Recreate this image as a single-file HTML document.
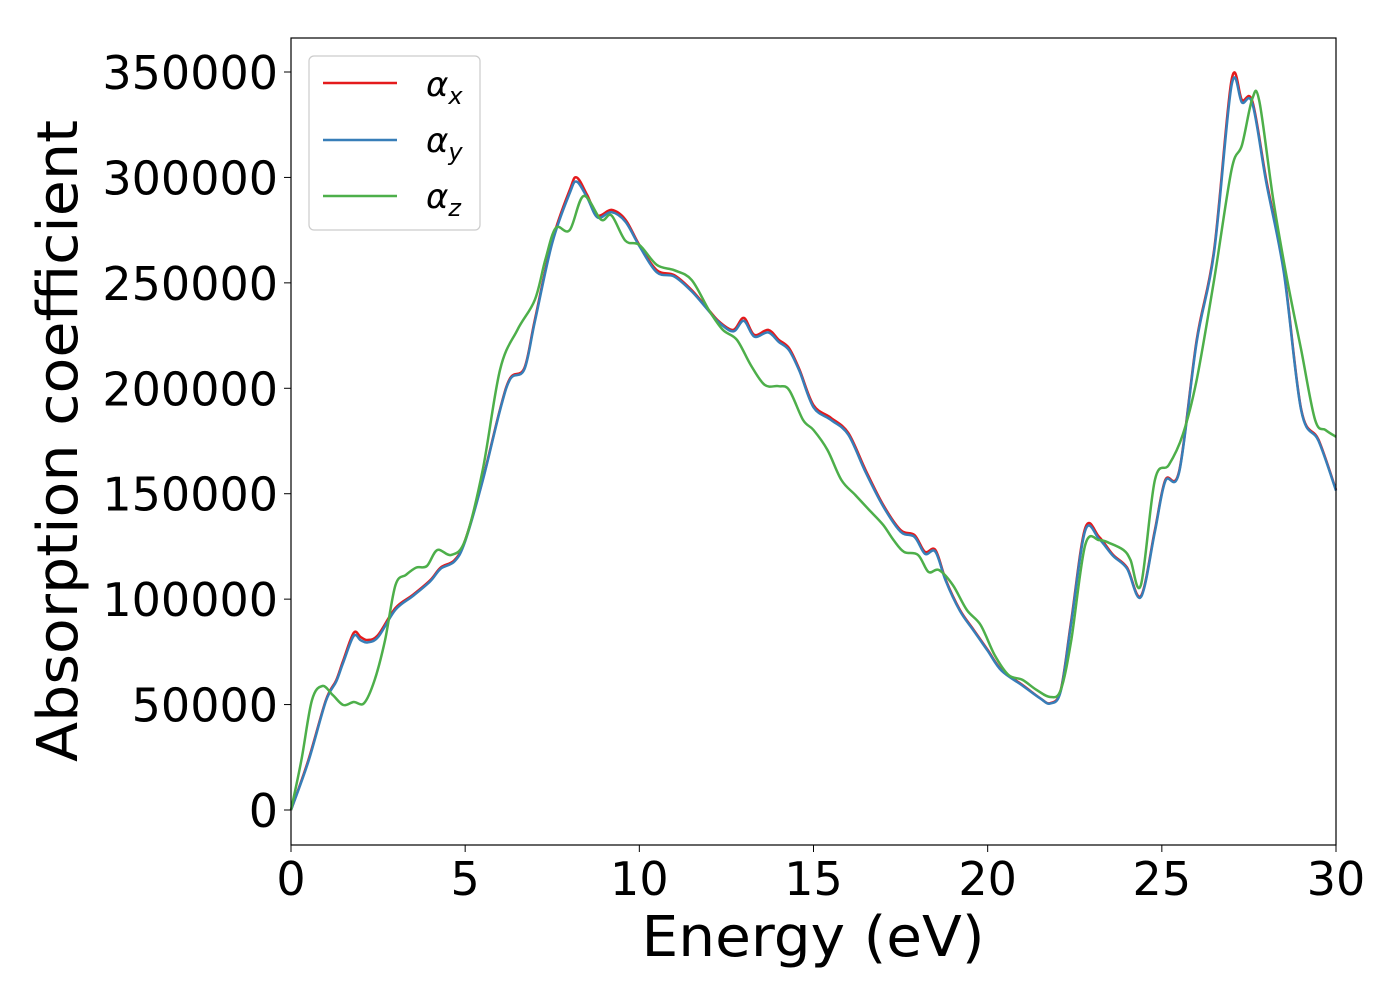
<!DOCTYPE html>
<html><head><meta charset="utf-8"><style>
html,body{margin:0;padding:0;background:#fff;}
svg text{font-family:"DejaVu Sans","Liberation Sans",sans-serif;}
</style></head><body>
<svg id="chart" width="1400" height="1000" viewBox="0 0 1400 1000" xmlns="http://www.w3.org/2000/svg">
<rect x="0" y="0" width="1400" height="1000" fill="#fff"/>
<g id="series"></g>
<rect x="291" y="38" width="1045" height="807" fill="none" stroke="#000" stroke-width="1.2"/>
<g id="axes"></g>
<text x="77" y="441" font-size="56" text-anchor="middle" textLength="642" lengthAdjust="spacingAndGlyphs" transform="rotate(-90 77 441)">Absorption coefficient</text>
<text x="813" y="956" font-size="56" text-anchor="middle" textLength="343" lengthAdjust="spacingAndGlyphs">Energy (eV)</text>
<g>
<rect x="309" y="56" width="171" height="174" rx="5" fill="#fff" fill-opacity="0.8" stroke="#ccc" stroke-width="1.2"/>
<line x1="323" y1="83" x2="397" y2="83" stroke="#e41a1c" stroke-width="2.5"/>
<text x="426" y="96" font-size="34" font-style="italic">α<tspan font-size="24" dy="8">x</tspan></text>
<line x1="323" y1="140" x2="397" y2="140" stroke="#377eb8" stroke-width="2.5"/>
<text x="426" y="152" font-size="34" font-style="italic">α<tspan font-size="24" dy="8">y</tspan></text>
<line x1="323" y1="196" x2="397" y2="196" stroke="#4daf4a" stroke-width="2.5"/>
<text x="426" y="208" font-size="34" font-style="italic">α<tspan font-size="24" dy="8">z</tspan></text>
</g>
</svg>
<script>
const xTicks = [0,5,10,15,20,25,30];
const yTicks = [0,50000,100000,150000,200000,250000,300000,350000];
const energyX = [0,0.5,1.0,1.3,1.5,1.8,2.0,2.2,2.5,3.0,3.5,4.0,4.3,4.7,5.0,5.5,6.0,6.3,6.7,7.0,7.5,8.0,8.2,8.5,8.8,9.2,9.6,10.0,10.5,11.0,11.5,12.0,12.3,12.7,13.0,13.3,13.7,14.0,14.3,14.6,15.0,15.5,16.0,16.5,17.0,17.5,17.9,18.2,18.5,18.8,19.2,19.6,20.0,20.4,21.0,21.5,21.8,22.1,22.4,22.8,23.2,23.6,24.0,24.4,24.8,25.1,25.5,26.0,26.5,27.0,27.3,27.6,28.0,28.5,29.0,29.5,30];
const alphaX = [0,23700,52000,61600,71000,84000,82000,80600,83000,95800,102000,109000,115000,118600,128000,156500,190000,205000,209600,232400,270000,294000,300000,291700,282000,284600,280000,268000,256000,253700,246600,237000,231500,227700,233400,225300,227700,223000,219000,208700,192000,186000,178800,161000,144700,132800,130400,122400,123300,109000,95000,85400,75900,66400,59300,53100,50700,57000,90000,133700,129500,121000,115000,101500,132800,156500,161000,223000,265600,346000,336700,336000,298800,256000,190000,175500,151800];
const alphaY = [0,23000,51500,61000,70000,82500,80500,79500,82000,95000,101500,108500,114500,118000,127500,156000,189500,204500,209000,231500,269000,292500,298000,290500,281000,283500,279000,267500,255000,253000,246000,236500,231000,227000,232000,224500,226500,222000,218000,208000,191000,185000,178000,160000,144000,132000,129500,121500,122500,108500,94500,85000,75500,66000,59000,53000,50500,56500,89000,132500,128500,120500,114500,101000,132000,156000,160500,222000,264500,343500,335500,335000,297500,255000,189500,175000,151500];
const energyZ = [0,0.3,0.6,0.9,1.2,1.5,1.8,2.1,2.4,2.7,3.0,3.3,3.6,3.9,4.2,4.6,5.0,5.5,6.0,6.5,7.0,7.3,7.6,8.0,8.4,8.9,9.2,9.6,10.0,10.5,11.0,11.5,12.0,12.4,12.8,13.2,13.6,14.0,14.3,14.7,15.0,15.4,15.8,16.2,16.6,17.0,17.3,17.6,18.0,18.3,18.6,19.0,19.4,19.8,20.2,20.6,21.0,21.4,21.8,22.1,22.4,22.8,23.2,23.5,23.9,24.1,24.4,24.8,25.2,25.6,26.0,26.5,27.0,27.3,27.6,27.8,28.2,28.6,29.0,29.4,29.7,30];
const alphaZ = [0,23700,52000,58800,54500,49800,51200,50700,61600,80600,106700,111500,115000,115700,123300,121000,128000,161000,208700,227700,241900,260900,276000,275000,291200,280000,282000,270000,268000,258500,256000,251400,237000,227700,223000,211000,201600,201000,199200,185000,180200,170800,156500,149400,142300,135200,128000,122400,121000,112900,113800,106700,94900,87700,73500,64000,61700,57000,53600,57000,80600,125700,128000,126600,123300,118600,106700,156500,163600,177900,204000,251400,303500,315400,337500,336000,289300,251400,218200,185000,180200,177000];

const X0=291,X1=1336,YB=810,YT=72;
function sx(v){return X0+(v-0)/30*(X1-X0);}
function sy(v){return YB-(v/350000)*(YB-YT);}
const NS="http://www.w3.org/2000/svg";
const axes=document.getElementById('axes');
xTicks.forEach(t=>{
  const l=document.createElementNS(NS,'line');
  l.setAttribute('x1',sx(t));l.setAttribute('x2',sx(t));l.setAttribute('y1',845);l.setAttribute('y2',852);l.setAttribute('stroke','#000');
  
  
  axes.appendChild(l);
  const tx=document.createElementNS(NS,'text');
  tx.setAttribute('x',sx(t));tx.setAttribute('y',895);tx.setAttribute('font-size','46');tx.setAttribute('text-anchor','middle');
  tx.textContent=t;
  
  
  axes.appendChild(tx);
});
yTicks.forEach(t=>{
  const l=document.createElementNS(NS,'line');
  l.setAttribute('x1',284);l.setAttribute('x2',291);l.setAttribute('y1',sy(t));l.setAttribute('y2',sy(t));l.setAttribute('stroke','#000');
  
  
  axes.appendChild(l);
  const tx=document.createElementNS(NS,'text');
  tx.setAttribute('x',278);tx.setAttribute('y',sy(t)+17);tx.setAttribute('font-size','46');tx.setAttribute('text-anchor','end');
  tx.textContent=t;
  
  
  axes.appendChild(tx);
});
function pathFor(xs,ys){
  const p=xs.map((x,i)=>[sx(x),sy(ys[i])]);
  let d='M'+p[0][0].toFixed(1)+','+p[0][1].toFixed(1);
  for(let i=0;i<p.length-1;i++){
    const p0=p[Math.max(0,i-1)],p1=p[i],p2=p[i+1],p3=p[Math.min(p.length-1,i+2)];
    const c1=[p1[0]+(p2[0]-p0[0])/6,p1[1]+(p2[1]-p0[1])/6];
    const c2=[p2[0]-(p3[0]-p1[0])/6,p2[1]-(p3[1]-p1[1])/6];
    d+=' C'+c1[0].toFixed(1)+','+c1[1].toFixed(1)+' '+c2[0].toFixed(1)+','+c2[1].toFixed(1)+' '+p2[0].toFixed(1)+','+p2[1].toFixed(1);
  }
  return d;
}
const g=document.getElementById('series');
[[energyX,alphaX,'#e41a1c','series-alpha-x'],[energyX,alphaY,'#377eb8','series-alpha-y'],[energyZ,alphaZ,'#4daf4a','series-alpha-z']].forEach(s=>{
  const p=document.createElementNS(NS,'path');
  p.setAttribute('d',pathFor(s[0],s[1]));
  p.setAttribute('fill','none');p.setAttribute('stroke',s[2]);p.setAttribute('stroke-width','2.5');
  
  
  g.appendChild(p);
});
</script>
</body></html>
